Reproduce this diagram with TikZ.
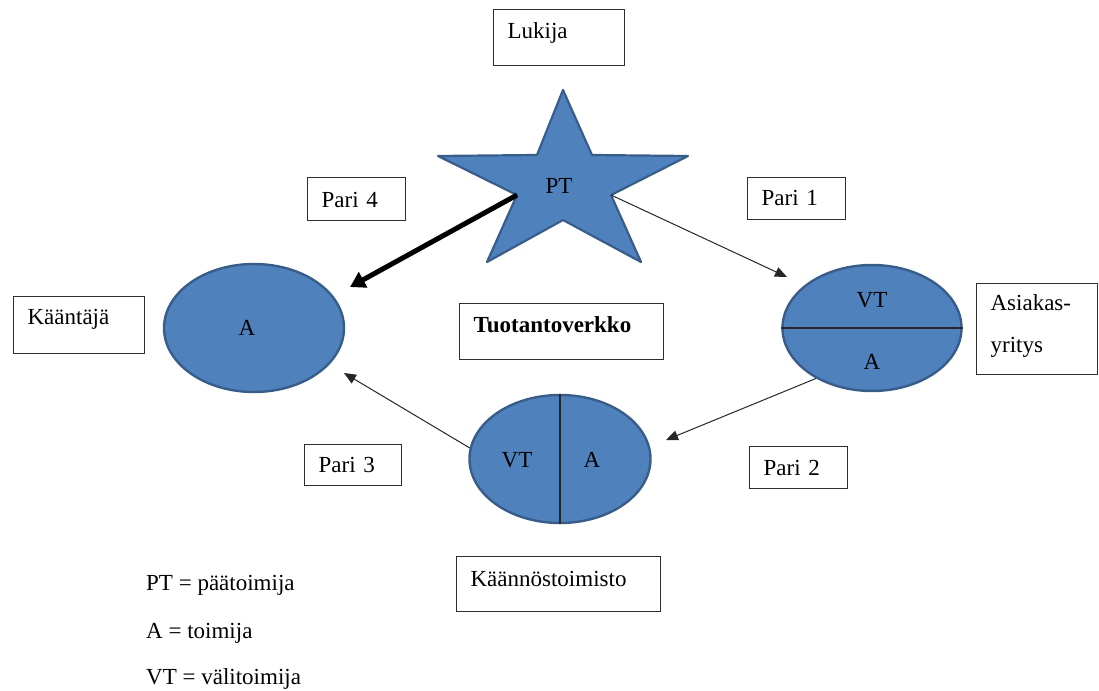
\documentclass[tikz,border=0pt]{standalone}
\usepackage{fontspec}
\setmainfont{Liberation Serif}
\usetikzlibrary{arrows.meta,shapes.geometric}
\definecolor{shapefill}{RGB}{79,129,189}
\definecolor{shapeline}{RGB}{56,93,138}
\definecolor{boxline}{RGB}{45,45,45}
\tikzset{
  txt/.style={font=\fontsize{23}{27}\selectfont, inner sep=0pt},
  tbox/.style={draw=boxline, line width=1.2pt, rectangle, anchor=north west,
    inner xsep=14pt, inner ysep=0pt, align=left, font=\fontsize{23}{27}\selectfont},
  blob/.style={ellipse, draw=shapeline, fill=shapefill, line width=2.4pt, inner sep=0pt},
  starshape/.style={draw=shapeline, fill=shapefill, line width=2.2pt, line join=round},
  divider/.style={draw=black!85, line width=1.2pt},
  thinarrow/.style={draw=black!85, line width=1pt, -{Triangle[length=12pt,width=10pt]}},
  thickarrow/.style={draw=black, line width=5pt, -{Triangle[length=15pt,width=17pt]}}
}
\begin{document}
\begin{tikzpicture}[x=1pt,y=-1pt]
\useasboundingbox (0,0) rectangle (1099,690);

% boxes
\node[tbox, minimum width=131pt, minimum height=56pt, text width=103pt, text height=17pt, text depth=15pt] (lukija) at (493,9) {Lukija};
\node[tbox, minimum width=98pt, minimum height=43pt, text width=70pt, text height=17pt, text depth=1pt] (pari4) at (307,177) {Pari 4};
\node[tbox, minimum width=98pt, minimum height=42pt, text width=70pt, text height=17pt, text depth=3pt] (pari1) at (747,177) {Pari 1};
\node[tbox, minimum width=98pt, minimum height=42pt, text width=70pt, text height=17pt, text depth=1pt] (pari2) at (749,446) {Pari 2};
\node[tbox, minimum width=97pt, minimum height=41pt, text width=69pt, text height=17pt, text depth=2pt] (pari3) at (304,444) {Pari 3};
\node[tbox, minimum width=131pt, minimum height=57pt, text width=103pt, text height=17pt, text depth=18pt] (kaantaja) at (13,296) {Kääntäjä};
\node[tbox, minimum width=204pt, minimum height=56pt, text width=176pt, text height=17pt, text depth=15pt] (tuotanto) at (459,303) {\textbf{Tuotantoverkko}};
\node[tbox, minimum width=121pt, minimum height=91pt, text width=93pt, text height=10pt, text depth=47pt, font=\fontsize{23}{42}\selectfont] (asiakas) at (976,283) {Asiakas-\\yritys};
\node[tbox, minimum width=204pt, minimum height=55pt, text width=176pt, text height=17pt, text depth=12pt] (kaannos) at (456,556) {Käännöstoimisto};

% star
\coordinate (s1) at (563,90);
\coordinate (s2) at (592,155);
\coordinate (s3) at (688,156);
\coordinate (s4) at (611,195);
\coordinate (s5) at (641,262);
\coordinate (s6) at (563,220);
\coordinate (s7) at (487,262);
\coordinate (s8) at (517,195);
\coordinate (s9) at (438,156);
\coordinate (s10) at (537,155);
\draw[starshape] (s1) -- (s2) -- (s3) -- (s4) -- (s5) -- (s6) -- (s7) -- (s8) -- (s9) -- (s10) -- cycle;
\node[txt] (pt) at (559,186) {PT};

% ellipses
\node[blob, minimum width=180pt, minimum height=128pt] (left) at (254,328) {};
\node[txt] (leftA) at (247,328) {A};

\node[blob, minimum width=179pt, minimum height=126pt] (right) at (872,328) {};
\draw[divider] (right.west) -- (right.east);
\node[txt] (rightVT) at (872,300) {VT};
\node[txt] (rightA) at (872,362) {A};

\node[blob, minimum width=181pt, minimum height=128pt] (bottom) at (560,459) {};
\draw[divider] (bottom.north) -- (bottom.south);
\node[txt] (bottomVT) at (517,460) {VT};
\node[txt] (bottomA) at (592,460) {A};

% arrows
\coordinate (t4) at (350,287);
\coordinate (t1) at (787,277);
\coordinate (t2) at (666,440);
\coordinate (t3) at (344,373);
\draw[thickarrow] (s8) -- (t4);
\draw[thinarrow] (s4) -- (t1);
\draw[thinarrow] (right.222) -- (t2);
\draw[thinarrow] (bottom.173) -- (t3);

% legend
\node[txt, anchor=base west] (leg1) at (146,590) {PT = päätoimija};
\node[txt, anchor=base west] (leg2) at (146,638) {A = toimija};
\node[txt, anchor=base west] (leg3) at (146,684) {VT = välitoimija};
\end{tikzpicture}
\end{document}
